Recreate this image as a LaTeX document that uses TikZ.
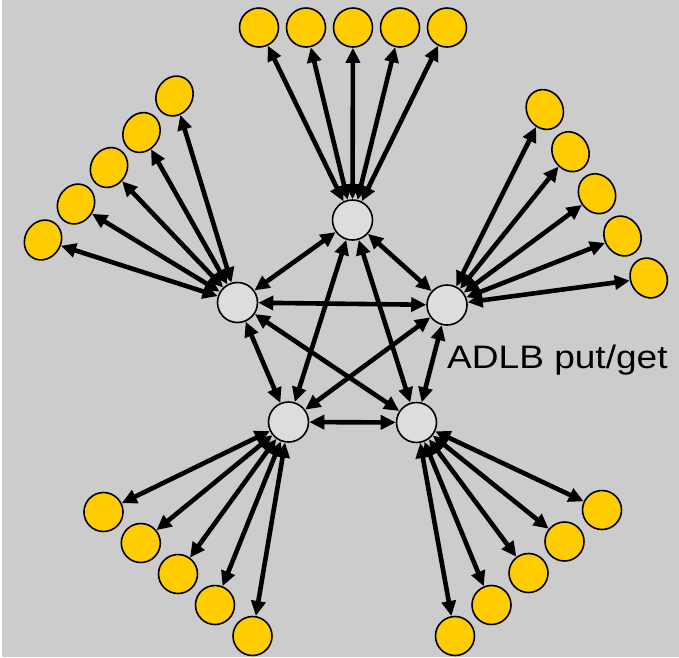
\documentclass[tikz,border=0pt]{standalone}
\usepackage{fontspec}
\setmainfont{Liberation Sans}
\usetikzlibrary{arrows.meta,shapes.geometric}
\definecolor{bgc}{HTML}{CCCCCC}
\definecolor{srv}{HTML}{DDDDDD}
\definecolor{wrk}{HTML}{FFCC00}
\begin{document}
\begin{tikzpicture}[x=1pt,y=-1pt,
  server/.style={circle,draw=black,line width=1.6pt,fill=srv,minimum size=40pt,inner sep=0pt},
  worker/.style={circle,draw=black,line width=1.6pt,fill=wrk,minimum size=39pt,inner sep=0pt},
  lworker/.style={ellipse,draw=black,line width=1.6pt,fill=wrk,minimum width=41pt,minimum height=36pt,inner sep=0pt,rotate=60},
  rworker/.style={ellipse,draw=black,line width=1.6pt,fill=wrk,minimum width=41pt,minimum height=36pt,inner sep=0pt,rotate=-60},
  tip/.tip={Triangle[length=15pt,width=14pt]},
  link/.style={draw=black,line width=4.6pt,tip-tip}]
\useasboundingbox (0,0) rectangle (679,657);
\fill[bgc] (2,0) rectangle (679,657);
% servers
\node[server] (T) at (352.5,220) {};
\node[server] (L) at (237.5,302.5) {};
\node[server] (R) at (447,305) {};
\node[server] (BL) at (288.5,422) {};
\node[server] (BR) at (416.5,422.5) {};
% workers
\foreach \x [count=\i] in {259,306,353,400,447} {\node[worker] (t\i) at (\x,27.5) {};}
\node[lworker] (l1) at (174.5,96) {};
\node[lworker] (l2) at (141.5,132.5) {};
\node[lworker] (l3) at (109,167.5) {};
\node[lworker] (l4) at (76,204) {};
\node[lworker] (l5) at (43,240) {};
\node[rworker] (r1) at (544.8,109.5) {};
\node[rworker] (r2) at (570.5,151.7) {};
\node[rworker] (r3) at (597,193.7) {};
\node[rworker] (r4) at (622.5,236) {};
\node[rworker] (r5) at (648.7,278) {};
\node[worker] (bl1) at (103.5,512) {};
\node[worker] (bl2) at (140.8,543) {};
\node[worker] (bl3) at (178,574) {};
\node[worker] (bl4) at (215,605) {};
\node[worker] (bl5) at (252.5,636) {};
\node[worker] (br1) at (602,510) {};
\node[worker] (br2) at (564.5,541.5) {};
\node[worker] (br3) at (528.5,573) {};
\node[worker] (br4) at (491.5,605) {};
\node[worker] (br5) at (455,636) {};
% worker links
\foreach \i in {1,...,5} {
  \draw[link] (T) -- (t\i);
  \draw[link] (L) -- (l\i);
  \draw[link] (R) -- (r\i);
  \draw[link] (BL) -- (bl\i);
  \draw[link] (BR) -- (br\i);
}
% server links
\draw[link] (T) -- (L);
\draw[link] (T) -- (R);
\draw[link] (L) -- (R);
\draw[link] (T) -- (BL);
\draw[link] (T) -- (BR);
\draw[link] (L) -- (BL);
\draw[link] (L) -- (BR);
\draw[link] (R) -- (BL);
\draw[link] (R) -- (BR);
\draw[link] (BL) -- (BR);
\node[anchor=base west,inner sep=0pt,font=\fontsize{32.5}{36}\selectfont,xscale=1.14] (lbl) at (447,368) {ADLB put/get};
\end{tikzpicture}
\end{document}
